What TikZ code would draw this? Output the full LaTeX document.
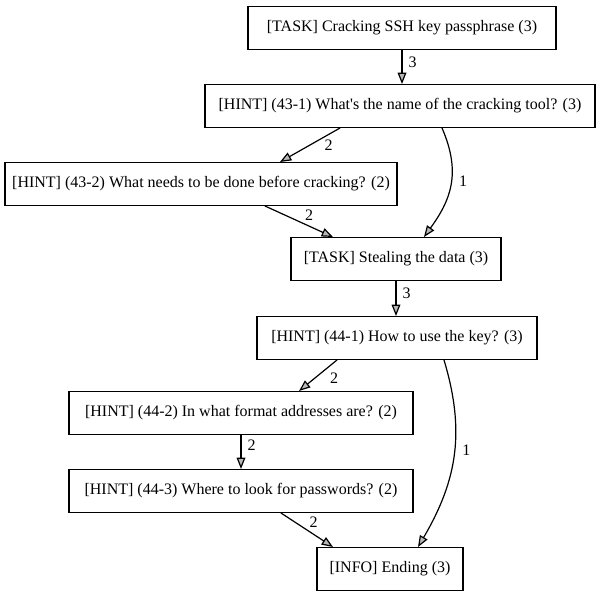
\documentclass[tikz,border=0pt]{standalone}
\usepackage{fontspec}
\setmainfont{Liberation Serif}
\usepackage{tikz}
\usetikzlibrary{arrows.meta, calc}
\tikzset{
	hintbox/.style={draw, line width=1pt, minimum height=32pt, inner sep=2pt, font=\fontsize{12pt}{14pt}\selectfont},
	link/.style={line width=0.9pt, -{Triangle[length=8.5pt, width=6.5pt, fill=gray!55]}},
	weight/.style={font=\fontsize{12pt}{14pt}\selectfont, inner sep=1.5pt}
}

\begin{document}
\begin{tikzpicture}[x=0.75pt, y=-0.75pt, line cap=round]

	\useasboundingbox (0,0) rectangle (596,593);

	% first task
	\node[hintbox, minimum width=231pt] (crack) at (402,28) {[TASK] Cracking SSH key passphrase (3)};
	\node[hintbox, minimum width=292.5pt] (h431) at (400,106) {[HINT] (43-1) What\textquotesingle s the name of the cracking tool? (3)};
	\node[hintbox, minimum width=294pt] (h432) at (201,184) {[HINT] (43-2) What needs to be done before cracking? (2)};

	% second task
	\node[hintbox, minimum width=157.5pt] (steal) at (396,259) {[TASK] Stealing the data (3)};
	\node[hintbox, minimum width=210pt] (h441) at (397,338) {[HINT] (44-1) How to use the key? (3)};
	\node[hintbox, minimum width=258pt] (h442) at (241,413) {[HINT] (44-2) In what format addresses are? (2)};
	\node[hintbox, minimum width=258pt] (h443) at (241,491) {[HINT] (44-3) Where to look for passwords? (2)};
	\node[hintbox, minimum width=109.5pt] (ending) at (390,569) {[INFO] Ending (3)};

	\draw[link] (crack.south) -- (crack.south |- h431.north) node[weight, pos=0.35, right=3pt] {3};
	\draw[link] ($(h431.south)+(-60,0)$) -- ($(h432.north)+(79,0)$) node[weight, pos=0.5, right=9pt] {2};
	\draw[link] ($(h431.south)+(42,0)$) .. controls ($(h431.south)+(62,46)$) and ($(steal.north)+(54,-36)$) .. ($(steal.north)+(28,0)$) node[weight, pos=0.45, right=4pt] {1};
	\draw[link] ($(h432.south)+(64,0)$) -- ($(steal.north)+(-63,0)$) node[weight, pos=0.55, above right] {2};

	\draw[link] (steal.south) -- (steal.south |- h441.north) node[weight, pos=0.35, right=3pt] {3};
	\draw[link] ($(h441.south)+(-60,0)$) -- ($(h442.north)+(58,0)$) node[weight, pos=0.6, right=10pt] {2};
	\draw[link] ($(h441.south)+(47,0)$) .. controls ($(h441.south)+(68,70)$) and ($(ending.north)+(68,-68)$) .. ($(ending.north)+(28,0)$) node[weight, pos=0.48, right=4pt] {1};
	\draw[link] (h442.south) -- (h442.south |- h443.north) node[weight, pos=0.3, right=3pt] {2};
	\draw[link] ($(h443.south)+(40,0)$) -- ($(ending.north)+(-57,0)$) node[weight, pos=0.5, above right] {2};

\end{tikzpicture}
\end{document}
